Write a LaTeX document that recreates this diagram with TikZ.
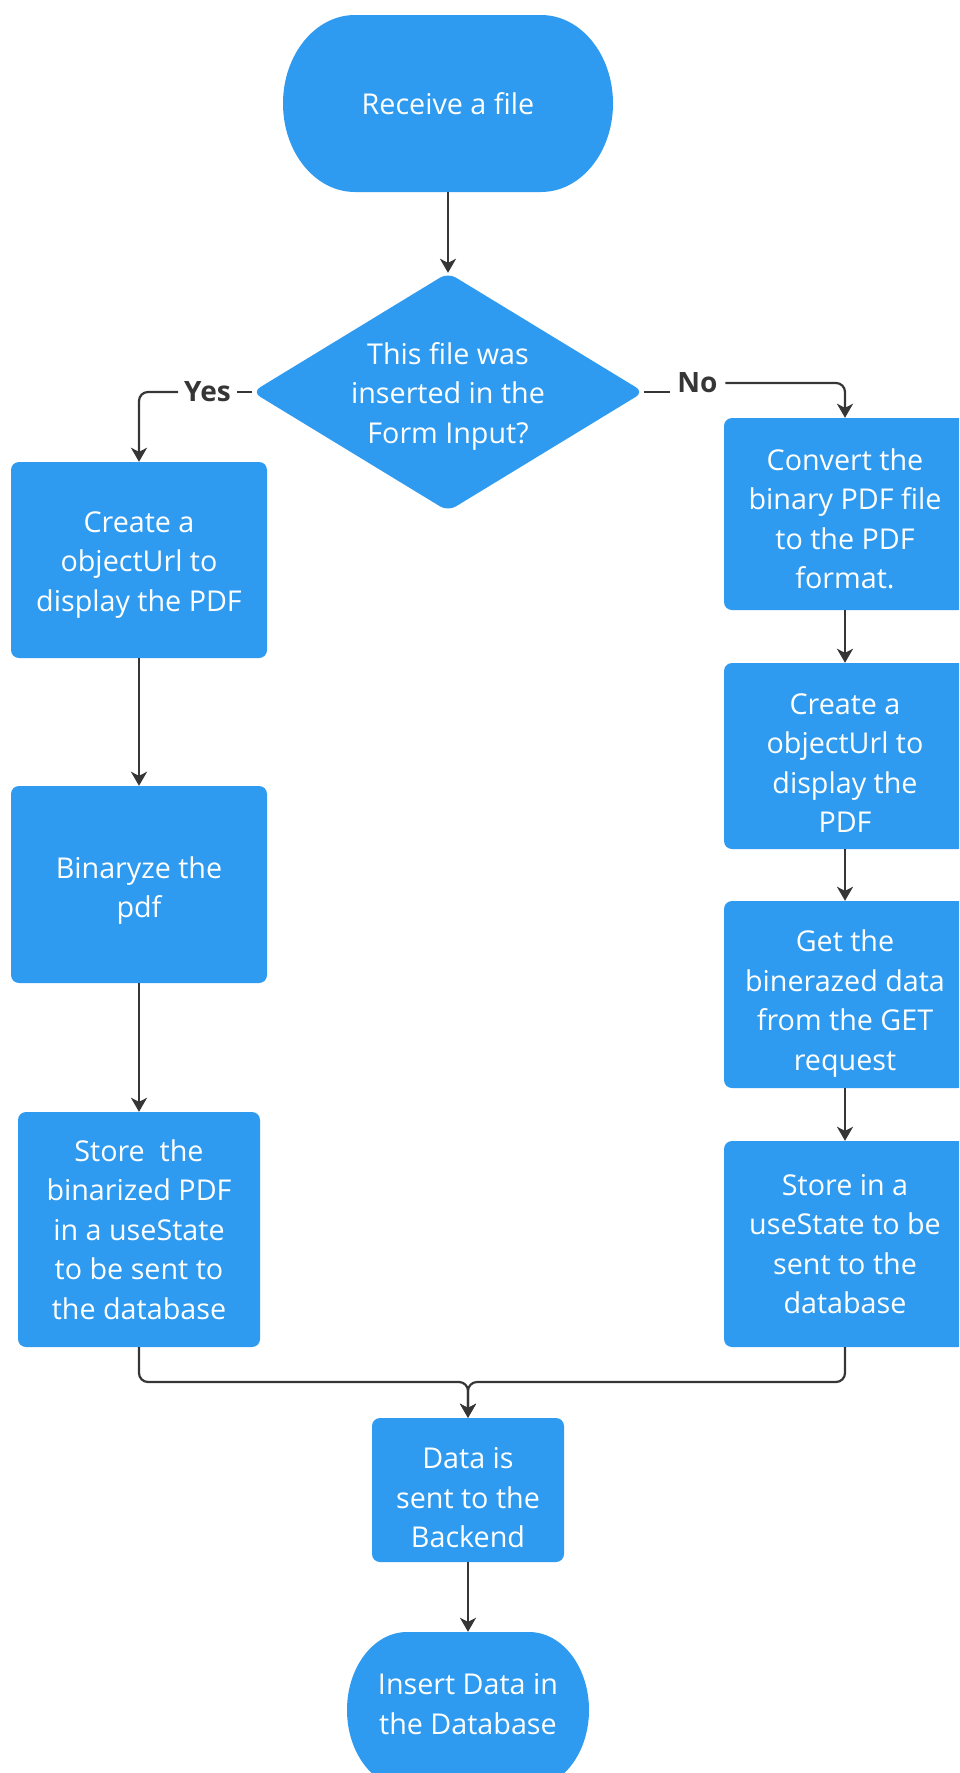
\documentclass[tikz,border=0pt]{standalone}
\usepackage{fontspec}
\setmainfont{Open Sans}
\usetikzlibrary{arrows.meta}
\pgfdeclarelayer{bg}
\pgfsetlayers{bg,main}
\definecolor{boxblue}{HTML}{2E9BF0}
\definecolor{linegray}{HTML}{363636}
\newcommand\boxtextsize{\fontsize{28.7}{39.5}\selectfont}
\newcommand\labeltextsize{\fontsize{28}{30}\selectfont\bfseries}
\tikzset{
  stepbox/.style={fill=boxblue, rounded corners=8pt, inner sep=0pt},
  outline/.style={inner sep=0pt},
  boxtext/.style={text=white, font=\boxtextsize, align=center, inner sep=0pt},
  conn/.style={draw=linegray, line width=2.2pt, rounded corners=9pt},
  flow/.style={conn, -{Stealth[length=14pt,width=16pt,inset=4pt]}},
  branchlabel/.style={fill=white, text=linegray, font=\labeltextsize,
    inner xsep=6pt, inner ysep=2pt},
}
\begin{document}
\begin{tikzpicture}[x=1pt,y=-1pt]
\useasboundingbox (0,0) rectangle (959,1773);
\clip (0,0) rectangle (959,1773);

% terminals and decision (outlines; their fills sit on the bg layer)
\node[outline, minimum width=330pt, minimum height=177pt] (start) at (448,103.5) {};
\node[outline, minimum width=391pt, minimum height=238pt] (dec) at (448,392) {};
\node[outline, minimum width=242pt, minimum height=156pt] (stop) at (468,1710) {};

% left branch
\node[stepbox, minimum width=256pt, minimum height=196pt] (l1) at (139,560) {};
\node[stepbox, minimum width=256pt, minimum height=197pt] (l2) at (139,884.5) {};
\node[stepbox, minimum width=242pt, minimum height=235pt] (l3) at (139,1229.5) {};

% right branch
\node[stepbox, minimum width=242pt, minimum height=192pt] (r1) at (845,514) {};
\node[stepbox, minimum width=242pt, minimum height=186pt] (r2) at (845,756) {};
\node[stepbox, minimum width=242pt, minimum height=187pt] (r3) at (845,994.5) {};
\node[stepbox, minimum width=242pt, minimum height=206pt] (r4) at (845,1244) {};

% merged tail
\node[stepbox, minimum width=192pt, minimum height=144pt] (data) at (468,1490) {};

% texts
\node[boxtext] (starttext) at (start) {Receive a file};
\node[boxtext, yshift=-4pt] (dectext) at (dec) {This file was\\inserted in the\\Form Input?};
\node[boxtext, yshift=-5pt] (l1text) at (l1) {Create a\\objectUrl to\\display the PDF};
\node[boxtext, yshift=-6pt] (l2text) at (l2) {Binaryze the\\pdf};
\node[boxtext] (l3text) at (l3)
  {Store\ \ the\\binarized PDF\\in a useState\\to be sent to\\the database};
\node[boxtext, yshift=-5pt] (r1text) at (r1) {Convert the\\binary PDF file\\to the PDF\\format.};
\node[boxtext, yshift=-7pt] (r2text) at (r2) {Create a\\objectUrl to\\display the\\PDF};
\node[boxtext, yshift=-9pt] (r3text) at (r3) {Get the\\binerazed data\\from the GET\\request};
\node[boxtext] (r4text) at (r4) {Store in a\\useState to be\\sent to the\\database};
\node[boxtext, yshift=-8pt] (datatext) at (data) {Data is\\sent to the\\Backend};
\node[boxtext, yshift=6pt] (stoptext) at (stop) {Insert Data in\\the Database};

% branch labels
\node[branchlabel] (yes) at (207.5,392) {Yes};
\node[branchlabel, inner xsep=7.5pt] (no) at (697.5,383) {No};
\coordinate (merge) at (468,1382);

% shapes behind the texts
\begin{pgfonlayer}{bg}
  \fill[boxblue] (355,15) -- (541,15)
    .. controls (580.8,15) and (613,54.6) .. (613,103.5)
    .. controls (613,152.4) and (580.8,192) .. (541,192)
    -- (355,192)
    .. controls (315.2,192) and (283,152.4) .. (283,103.5)
    .. controls (283,54.6) and (315.2,15) .. (355,15) -- cycle;
  \fill[boxblue] (407,1632) -- (529,1632)
    .. controls (562.1,1632) and (589,1666.9) .. (589,1710)
    .. controls (589,1753.1) and (562.1,1788) .. (529,1788)
    -- (407,1788)
    .. controls (373.9,1788) and (347,1753.1) .. (347,1710)
    .. controls (347,1666.9) and (373.9,1632) .. (407,1632) -- cycle;
  \fill[boxblue, rounded corners=9pt] (dec.north) -- (dec.east) -- (dec.south) -- (dec.west) -- cycle;
\end{pgfonlayer}

% connectors
\draw[flow] (start.south) -- (dec.north);
\draw[conn] (dec.west) -- (yes.east);
\draw[flow] (yes.west) -| (l1.north);
\draw[conn] (dec.east) -- (no.west |- dec.east);
\draw[flow] (no.east) -| (r1.north);

\draw[flow] (l1.south) -- (l2.north);
\draw[flow] (l2.south) -- (l3.north);

\draw[flow] (r1.south) -- (r2.north);
\draw[flow] (r2.south) -- (r3.north);
\draw[flow] (r3.south) -- (r4.north);

\draw[flow] (l3.south) |- (merge) -- (data.north);
\draw[flow] (r4.south) |- (merge) -- (data.north);
\draw[flow] (data.south) -- (stop.north);
\end{tikzpicture}
\end{document}
